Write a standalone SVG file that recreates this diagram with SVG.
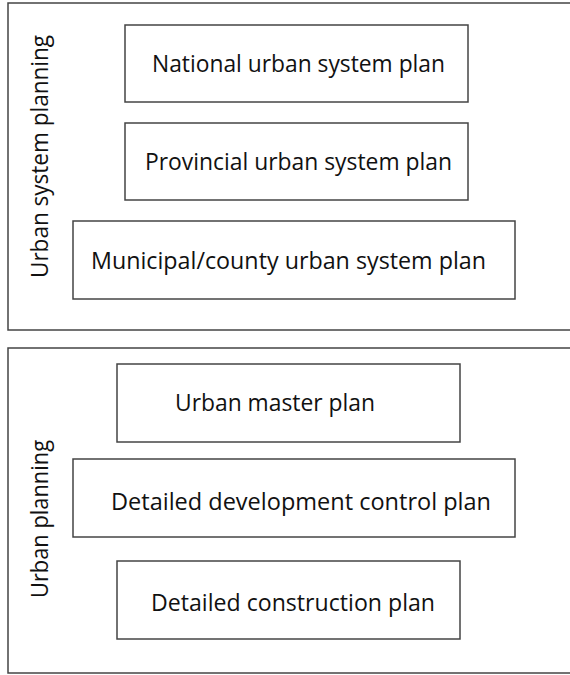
<svg xmlns="http://www.w3.org/2000/svg" width="570" height="675" viewBox="0 0 570 675">
  <style>
    .frame { fill: #ffffff; stroke: #444444; stroke-width: 1.5; }
    .box { fill: #ffffff; stroke: #444444; stroke-width: 1.5; }
    .lbl { font-family: "Open Sans", "Noto Sans", "Liberation Sans", sans-serif; font-size: 23px; fill: #111111; }
  </style>
  <rect width="570" height="675" fill="#ffffff"/>

  <!-- Upper group: urban system planning -->
  <g id="group-urban-system-planning">
    <rect class="frame" x="8" y="3" width="570" height="327"/>
    <text class="lbl" transform="translate(48,278) rotate(-90)" textLength="243" lengthAdjust="spacingAndGlyphs">Urban system planning</text>
  </g>
  <g id="national-plan">
    <rect class="box" x="125" y="25" width="343" height="77"/>
    <text class="lbl" x="152" y="72" textLength="293" lengthAdjust="spacingAndGlyphs">National urban system plan</text>
  </g>
  <g id="provincial-plan">
    <rect class="box" x="125" y="123" width="343" height="77"/>
    <text class="lbl" x="145" y="170" textLength="307" lengthAdjust="spacingAndGlyphs">Provincial urban system plan</text>
  </g>
  <g id="municipal-plan">
    <rect class="box" x="73" y="221" width="442" height="78"/>
    <text class="lbl" x="91" y="269" textLength="395" lengthAdjust="spacingAndGlyphs">Municipal/county urban system plan</text>
  </g>

  <!-- Lower group: urban planning -->
  <g id="group-urban-planning">
    <rect class="frame" x="8" y="348" width="570" height="325"/>
    <text class="lbl" transform="translate(48,598) rotate(-90)" textLength="158" lengthAdjust="spacingAndGlyphs">Urban planning</text>
  </g>
  <g id="master-plan">
    <rect class="box" x="117" y="364" width="343" height="78"/>
    <text class="lbl" x="175" y="411" textLength="200" lengthAdjust="spacingAndGlyphs">Urban master plan</text>
  </g>
  <g id="control-plan">
    <rect class="box" x="73" y="459" width="442" height="78"/>
    <text class="lbl" x="111" y="510" textLength="380" lengthAdjust="spacingAndGlyphs">Detailed development control plan</text>
  </g>
  <g id="construction-plan">
    <rect class="box" x="117" y="561" width="343" height="78"/>
    <text class="lbl" x="151" y="611" textLength="284" lengthAdjust="spacingAndGlyphs">Detailed construction plan</text>
  </g>

  <g id="connectors"/>
</svg>
